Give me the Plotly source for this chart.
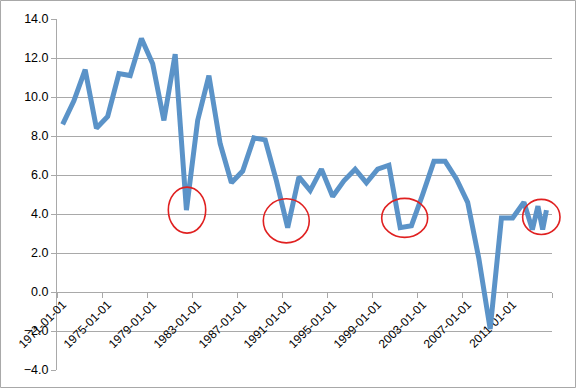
import plotly.graph_objects as go
import datetime as dt

# ---- data ----
dates = [f"{y}-01-01" for y in range(1971, 2013)] + ["2012-10-01", "2013-04-01", "2013-09-01", "2014-01-01"]
values = [8.6, 9.8, 11.4, 8.4, 9.0, 11.2, 11.1, 13.0, 11.7, 8.8,
          12.2, 4.2, 8.8, 11.1, 7.6, 5.6, 6.2, 7.9, 7.8, 5.7,
          3.3, 5.9, 5.2, 6.3, 4.9, 5.7, 6.3, 5.6, 6.3, 6.5,
          3.3, 3.4, 5.0, 6.7, 6.7, 5.8, 4.6, 1.7, -1.9, 3.8,
          3.8, 4.6, 3.2, 4.4, 3.2, 4.2]
tick_dates = [f"{y}-01-01" for y in range(1971, 2012, 4)]
tick_labels = tick_dates
y_ticks = [-4, -2, 0, 2, 4, 6, 8, 10, 12, 14]

# highlighted dips (centre date, centre value, half-width in days, half-height)
circles = [("1982-01-20", 4.2, 607, 1.18),
           ("1990-11-17", 3.65, 746, 1.13),
           ("2001-05-27", 3.8, 746, 1.0),
           ("2013-07-19", 3.85, 607, 0.9)]

x_start, x_end = dt.date(1970, 7, 1), dt.date(2014, 7, 1)
span = (x_end - x_start).days


def to_paper(d):
    return (d - x_start).days / span


fig = go.Figure()
fig.add_trace(go.Scatter(x=dates, y=values, mode="lines",
                         line=dict(color="#5B93C8", width=5),
                         hoverinfo="skip", showlegend=False))

shapes = []
for c, v, hw, hh in circles:
    d = dt.date.fromisoformat(c)
    shapes.append(dict(type="circle", xref="paper", yref="y",
                       x0=to_paper(d - dt.timedelta(days=hw)),
                       x1=to_paper(d + dt.timedelta(days=hw)),
                       y0=v - hh, y1=v + hh,
                       line=dict(color="#E02020", width=1.6)))
# chart-area border
shapes.append(dict(type="rect", xref="paper", yref="paper",
                   x0=-0.1141, x1=1.0475, y0=-0.0499, y1=1.0527,
                   line=dict(color="#A8A8A8", width=1)))

grid = "#A9A9A9"
fig.update_layout(
    width=576, height=388,
    margin=dict(l=57, r=24, t=19, b=18),
    paper_bgcolor="white", plot_bgcolor="white",
    font=dict(family="Liberation Sans", color="#000000", size=12),
    shapes=shapes,
    xaxis=dict(type="date", range=[x_start.isoformat(), x_end.isoformat()],
               tickmode="array", tickvals=tick_dates, ticktext=tick_labels,
               tickangle=-45, ticks="", showgrid=False, automargin=False,
               showline=True, linecolor=grid, linewidth=1,
               anchor="free", position=4/18, layer="below traces",
               tickfont=dict(size=12),
               minor=dict(tick0="1970-07-01", dtick="M48", ticks="outside",
                          ticklen=5, tickcolor=grid, showgrid=False)),
    yaxis=dict(range=[-4, 14], tickvals=y_ticks, tickformat=".1f",
               showgrid=True, gridcolor=grid, gridwidth=1, automargin=False,
               zeroline=False, showline=True, linecolor=grid,
               ticks="outside", ticklen=5, tickcolor=grid,
               tickfont=dict(size=12.5), layer="below traces"),
)
fig.write_html("out.html", config={"displayModeBar": False},
               post_script="document.body.style.margin='0';document.body.style.overflow='hidden';")
